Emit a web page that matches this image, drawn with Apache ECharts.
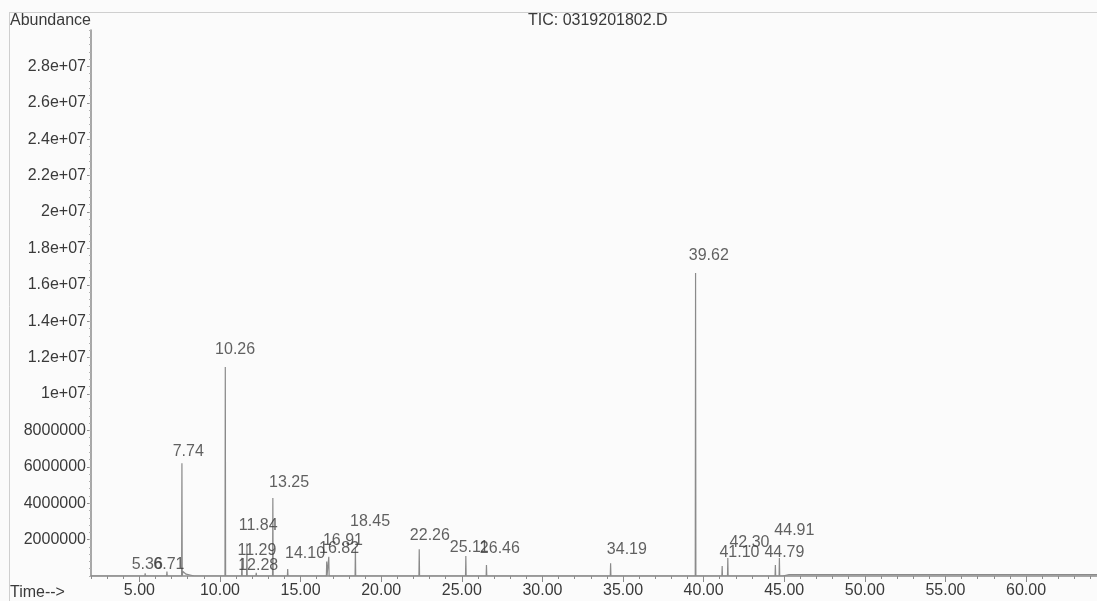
<!DOCTYPE html>
<html>
<head>
<meta charset="utf-8">
<script src="https://cdn.jsdelivr.net/npm/echarts@6/dist/echarts.min.js"></script>
<style>
  html, body { margin: 0; padding: 0; background: #fbfbfb; }
  #chart { width: 1097px; height: 601px; }
</style>
</head>
<body>
<div id="chart"></div>
<script>
// retention time (min) and abundance of each peak
const peakTimes = [5.36, 6.71, 7.64, 10.33, 11.36, 11.67, 12.25, 13.28, 14.2, 16.62, 16.75, 18.4, 22.36, 25.25, 26.53, 34.23, 39.5, 41.15, 41.5, 44.45, 44.7];
const peakHeights = [150000, 250000, 6200000, 11480000, 1000000, 1800000, 180000, 4290000, 380000, 790000, 1060000, 1610000, 1470000, 1100000, 600000, 700000, 16650000, 550000, 990000, 600000, 990000];

// baseline between peaks
const traceTimes = [2.0, 7.7, 7.9, 8.4, 44.9, 45.3, 64.4];
const traceValues = [0, 250000, 100000, 0, 0, 80000, 80000];

// peak labels and where they sit
const labelTexts = ['5.36', '6.71', '7.74', '10.26', '11.29', '11.84', '12.28', '13.25', '14.10', '16.82', '16.91', '18.45', '22.26', '25.11', '26.46', '34.19', '39.62', '41.10', '42.30', '44.79', '44.91'];
const labelTimes = [5.49, 6.83, 8.03, 10.94, 12.29, 12.37, 12.37, 14.29, 15.28, 17.39, 17.63, 19.31, 23.02, 25.46, 27.36, 35.24, 40.32, 42.22, 42.84, 45.01, 45.63];
const labelLevels = [600000, 600000, 6810000, 12420000, 1390000, 2750000, 590000, 5130000, 1210000, 1520000, 1940000, 2980000, 2200000, 1580000, 1480000, 1430000, 17580000, 1280000, 1830000, 1280000, 2470000];

const xMajor = [5, 10, 15, 20, 25, 30, 35, 40, 45, 50, 55, 60];
const xMinor = [];
for (let t = 2; t <= 64; t++) xMinor.push(t);
const yMajor = [2e6, 4e6, 6e6, 8e6, 1e7, 1.2e7, 1.4e7, 1.6e7, 1.8e7, 2e7, 2.2e7, 2.4e7, 2.6e7, 2.8e7];
const yMinor = [];
for (let v = 0; v <= 3e7; v += 4e5) yMinor.push(v);

const X_MIN = 2.0, X_MAX = 64.4, Y_MAX = 3.0e7;

// build the trace: baseline points plus a narrow spike for each peak
const pts = traceTimes.map((t, i) => [t, traceValues[i]]);
peakTimes.forEach((t, i) => {
  pts.push([t - 0.02, 0], [t, peakHeights[i]], [t + 0.02, 0]);
});
pts.sort((a, b) => a[0] - b[0]);

const font = 'Liberation Sans, Arial, Helvetica, sans-serif';
const txt = '#3a3a3a';

const chart = echarts.init(document.getElementById('chart'));
chart.setOption({
  animation: false,
  backgroundColor: '#fbfbfb',
  textStyle: { fontFamily: font },
  grid: { left: 91, right: 0, top: 30, bottom: 25 },
  graphic: [
    { type: 'line', shape: { x1: 9, y1: 12.5, x2: 1097, y2: 12.5 }, style: { stroke: '#cfcfcf', lineWidth: 1 } },
    { type: 'line', shape: { x1: 9.5, y1: 12, x2: 9.5, y2: 601 }, style: { stroke: '#cfcfcf', lineWidth: 1 } },
    { type: 'text', left: 10, top: 13, style: { text: 'Abundance', font: '16px ' + font, fill: txt } },
    { type: 'text', left: 10, top: 585, style: { text: 'Time-->', font: '16px ' + font, fill: txt } },
    { type: 'text', left: 528, top: 13, style: { text: 'TIC: 0319201802.D', font: '16px ' + font, fill: txt } }
  ],
  xAxis: [
    {
      type: 'value', min: X_MIN, max: X_MAX, position: 'bottom',
      axisLine: { show: true, onZero: false, lineStyle: { color: '#8c8c8c', width: 1.5 } },
      axisTick: { show: true, inside: false, length: 3, customValues: xMinor, lineStyle: { color: '#8c8c8c' } },
      axisLabel: { show: false },
      splitLine: { show: false }
    },
    {
      type: 'value', min: X_MIN, max: X_MAX, position: 'bottom',
      axisLine: { show: false },
      axisTick: { show: true, inside: false, length: 6, customValues: xMajor, lineStyle: { color: '#8c8c8c' } },
      axisLabel: {
        show: true, margin: 7, customValues: xMajor, color: txt, fontSize: 16, fontFamily: font,
        formatter: v => v.toFixed(2)
      },
      splitLine: { show: false }
    }
  ],
  yAxis: [
    {
      type: 'value', min: 0, max: Y_MAX, position: 'left',
      axisLine: { show: true, lineStyle: { color: '#8c8c8c', width: 1.5 } },
      axisTick: { show: true, inside: false, length: 4, customValues: yMajor, lineStyle: { color: '#8c8c8c' } },
      axisLabel: {
        show: true, margin: 5, customValues: yMajor, color: txt, fontSize: 16, fontFamily: font,
        formatter: v => v >= 1e7 ? (v / 1e7) + 'e+07' : String(v)
      },
      splitLine: { show: false }
    },
    {
      type: 'value', min: 0, max: Y_MAX, position: 'left',
      axisLine: { show: false },
      axisTick: { show: true, inside: false, length: 2, customValues: yMinor, lineStyle: { color: '#b0b0b0' } },
      axisLabel: { show: false },
      splitLine: { show: false }
    }
  ],
  series: [
    {
      type: 'line',
      xAxisIndex: 0, yAxisIndex: 0,
      data: pts,
      symbol: 'none',
      lineStyle: { color: '#8a8a8a', width: 1.2 },
      z: 3
    },
    {
      type: 'scatter',
      xAxisIndex: 0, yAxisIndex: 0,
      symbolSize: 0,
      data: labelTimes.map((t, i) => ({ value: [t, labelLevels[i]], name: labelTexts[i] })),
      label: {
        show: true, position: 'inside', formatter: p => p.name,
        color: txt, fontSize: 16, fontFamily: font
      },
      silent: true,
      z: 4
    }
  ]
});
</script>
</body>
</html>
